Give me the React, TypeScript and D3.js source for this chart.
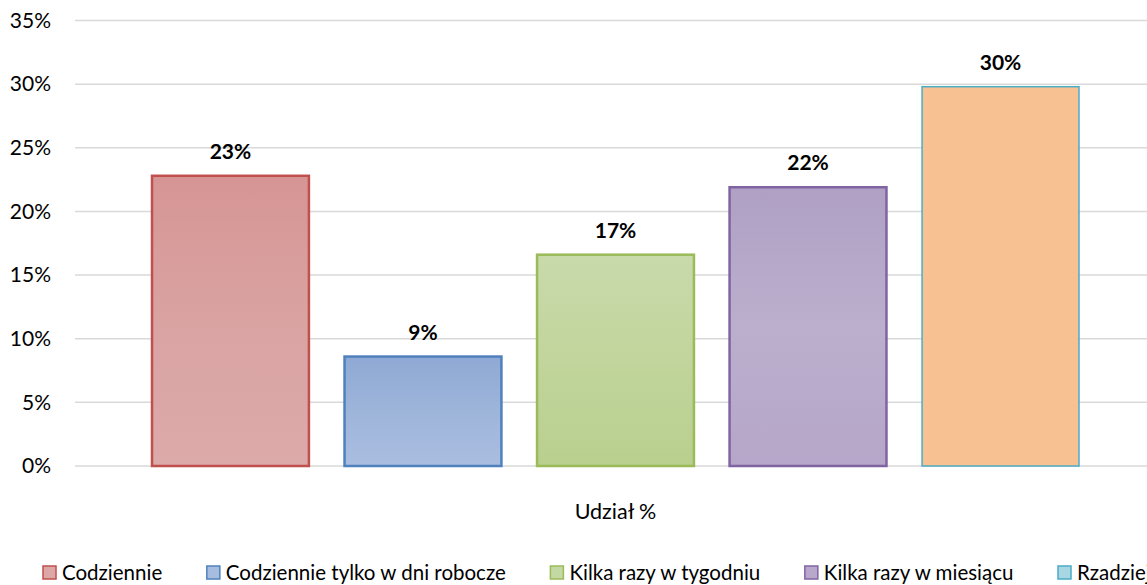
import React, { useLayoutEffect, useRef, useState } from "react";
import * as d3 from "d3";

const categories = [
  "Codziennie",
  "Codziennie tylko w dni robocze",
  "Kilka razy w tygodniu",
  "Kilka razy w miesiącu",
  "Rzadziej",
];
const values = [0.228, 0.086, 0.166, 0.219, 0.298];
const labels = ["23%", "9%", "17%", "22%", "30%"];
const yTicks = [0, 0.05, 0.1, 0.15, 0.2, 0.25, 0.3, 0.35];
const axisTitle = "Udział %";

const strokes = ["#c0504d", "#4f81bd", "#9bbb59", "#8064a2", "#4bacc6"];
const gradTop = ["#d69594", "#8ea9d4", "#c9daab", "#afa0c4", "#f8c191"];
const gradMid = ["#d9a3a2", "#9eb5da", "#c1d59c", "#bbafcd", "#f8c191"];
const gradBot = ["#dcaaa9", "#a9bde0", "#b9cf8e", "#b6a6c9", "#f8c191"];
const legendFill = ["#dca7a6", "#a7bde0", "#c4d8a4", "#b8a9cc", "#a9d6e3"];

const W = 1147;
const H = 585;
const FONT = "Lato, 'Open Sans', sans-serif";

export default function App() {
  const x0 = 75;
  const x1 = 1156;
  const yTop = 20.5;
  const yBot = 466;
  const y = d3.scaleLinear().domain([0, 0.35]).range([yBot, yTop]);
  const x = d3
    .scaleBand<string>()
    .domain(categories)
    .range([x0, x1])
    .paddingInner(0.185)
    .paddingOuter(0.4);

  const legendRefs = useRef<(SVGTextElement | null)[]>([]);
  const [legendX, setLegendX] = useState<number[]>([43, 205, 550, 804, 1058]);
  const legendStart = 43;
  const legendLast = 1058;
  const swatch = 19;

  useLayoutEffect(() => {
    const widths = legendRefs.current.map((el) =>
      el ? el.getComputedTextLength() : 0
    );
    const n = widths.length;
    const used = widths.slice(0, n - 1).reduce((a, b) => a + b, 0) + swatch * (n - 1);
    const gap = (legendLast - legendStart - used) / (n - 1);
    const xs: number[] = [];
    let cur = legendStart;
    widths.forEach((w) => {
      xs.push(cur);
      cur += swatch + w + gap;
    });
    setLegendX(xs);
  }, []);

  return (
    <svg
      width={W}
      height={H}
      style={{ position: "absolute", left: 0, top: 0 }}
      fontFamily={FONT}
    >
      <defs>
        {categories.map((c, i) => (
          <linearGradient key={c} id={`g${i}`} x1="0" y1="0" x2="0" y2="1">
            <stop offset="0%" stopColor={gradTop[i]} />
            <stop offset="50%" stopColor={gradMid[i]} />
            <stop offset="100%" stopColor={gradBot[i]} />
          </linearGradient>
        ))}
      </defs>
      <rect x={0} y={0} width={W} height={H} fill="#fff" />
      {yTicks.map((t) => (
        <g key={t}>
          <line
            x1={x0}
            x2={W}
            y1={y(t)}
            y2={y(t)}
            stroke="#d9d9d9"
            strokeWidth={1.5}
          />
          <text
            x={51}
            y={y(t)}
            dy="0.35em"
            textAnchor="end"
            fontSize={21}
            fill="#000"
          >
            {d3.format(".0%")(t)}
          </text>
        </g>
      ))}
      {categories.map((c, i) => {
        const bx = x(c)!;
        const bw = x.bandwidth();
        const by = y(values[i]);
        return (
          <g key={c}>
            <rect
              x={bx}
              y={by}
              width={bw}
              height={yBot - by}
              fill={`url(#g${i})`}
              stroke={strokes[i]}
              strokeWidth={i === 4 ? 1.5 : 2.5}
            />
            <text
              x={bx + bw / 2}
              y={by - 17}
              textAnchor="middle"
              fontSize={21}
              fontWeight="bold"
              fill="#000"
            >
              {labels[i]}
            </text>
          </g>
        );
      })}
      <text
        x={(x0 + x1) / 2}
        y={511}
        dy="0.35em"
        textAnchor="middle"
        fontSize={21.5}
        fill="#000"
      >
        {axisTitle}
      </text>
      {categories.map((c, i) => (
        <g key={"l" + c}>
          <rect
            x={legendX[i]}
            y={566}
            width={13}
            height={13}
            fill={legendFill[i]}
            stroke={strokes[i]}
            strokeWidth={1.5}
          />
          <text
            ref={(el) => {
              legendRefs.current[i] = el;
            }}
            x={legendX[i] + swatch}
            y={573}
            dy="0.35em"
            fontSize={20.5}
            fill="#000"
          >
            {c}
          </text>
        </g>
      ))}
    </svg>
  );
}
